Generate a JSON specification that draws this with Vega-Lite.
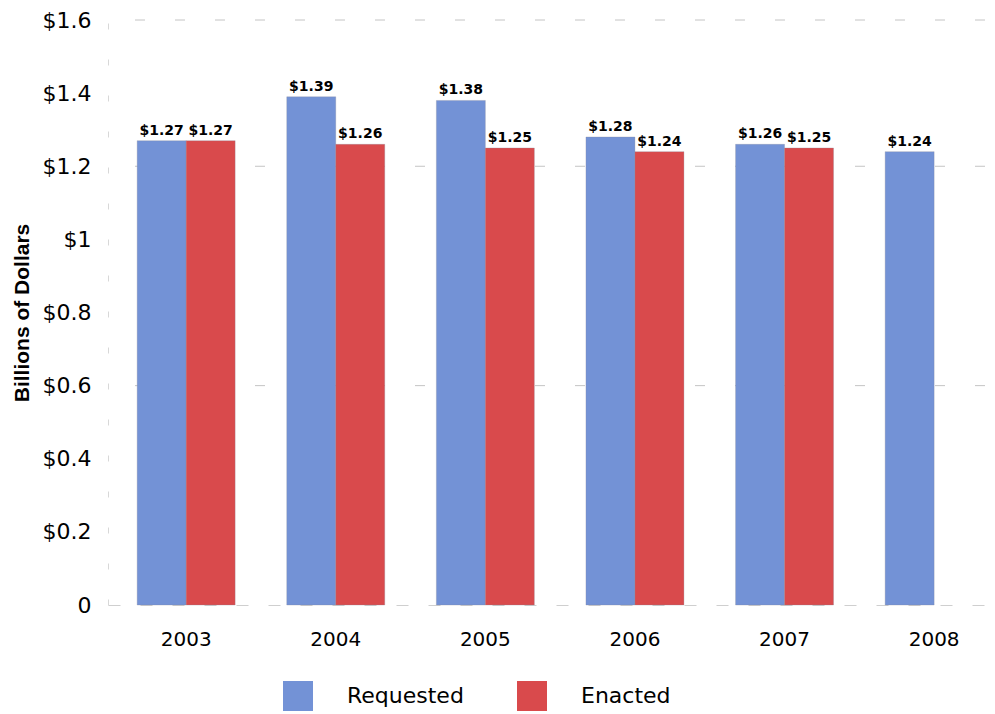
{
  "$schema": "https://vega.github.io/schema/vega-lite/v6.json",
  "width": 877,
  "height": 585,
  "autosize": {"type": "none"},
  "padding": {"left": 108, "top": 20, "right": 10, "bottom": 109},
  "background": "white",
  "config": {
    "view": {"stroke": null},
    "font": "DejaVu Sans"
  },
  "datasets": {
    "budget": [
      {"year": "2003", "type": "Requested", "value": 1.27},
      {"year": "2003", "type": "Enacted", "value": 1.27},
      {"year": "2004", "type": "Requested", "value": 1.39},
      {"year": "2004", "type": "Enacted", "value": 1.26},
      {"year": "2005", "type": "Requested", "value": 1.38},
      {"year": "2005", "type": "Enacted", "value": 1.25},
      {"year": "2006", "type": "Requested", "value": 1.28},
      {"year": "2006", "type": "Enacted", "value": 1.24},
      {"year": "2007", "type": "Requested", "value": 1.26},
      {"year": "2007", "type": "Enacted", "value": 1.25},
      {"year": "2008", "type": "Requested", "value": 1.24}
    ],
    "grid": [
      {"value": 0.6},
      {"value": 1.2},
      {"value": 1.6}
    ]
  },
  "layer": [
    {
      "data": {"name": "grid"},
      "mark": {"type": "rule", "color": "#c4c4c4", "strokeWidth": 1, "strokeDash": [10, 30]},
      "encoding": {
        "y": {
          "field": "value",
          "type": "quantitative",
          "scale": {"domain": [0, 1.6], "nice": false},
          "axis": {
            "title": "Billions of Dollars",
            "titleFont": "Liberation Sans",
            "titleFontSize": 21,
            "titleFontWeight": "bold",
            "titleColor": "#000",
            "titlePadding": 10,
            "values": [0, 0.2, 0.4, 0.6, 0.8, 1, 1.2, 1.4, 1.6],
            "labelExpr": "datum.value == 0 ? '0' : '$' + format(datum.value, '~g')",
            "labelFontSize": 22,
            "labelColor": "#000",
            "labelPadding": 17,
            "ticks": false,
            "grid": false,
            "domainColor": "#d8d8d8",
            "domainDash": [6, 30]
          }
        }
      }
    },
    {
      "data": {"name": "budget"},
      "encoding": {
        "x": {
          "field": "year",
          "type": "nominal",
          "scale": {"paddingInner": 0.345, "paddingOuter": 0.1037, "align": 0.94},
          "axis": {
            "title": null,
            "labelAngle": 0,
            "labelFontSize": 20,
            "labelColor": "#000",
            "labelPadding": 24,
            "ticks": false,
            "domain": true,
            "domainColor": "#cfcfcf",
            "domainDash": [12, 20]
          }
        },
        "xOffset": {
          "field": "type",
          "type": "nominal",
          "sort": ["Requested", "Enacted"],
          "scale": {"paddingInner": 0, "paddingOuter": 0}
        },
        "y": {
          "field": "value",
          "type": "quantitative"
        }
      },
      "layer": [
        {
          "mark": {"type": "bar", "stroke": "#8a8a9a", "strokeWidth": 0.6, "strokeOpacity": 0.5},
          "encoding": {
            "color": {
              "field": "type",
              "type": "nominal",
              "sort": ["Requested", "Enacted"],
              "scale": {"domain": ["Requested", "Enacted"], "range": ["#7392d6", "#d94a4c"]},
              "legend": {
                "title": null,
                "orient": "none",
                "legendX": 175,
                "legendY": 661,
                "padding": 0,
                "direction": "horizontal",
                "symbolType": "square",
                "symbolSize": 900,
                "symbolStrokeWidth": 0,
                "labelFontSize": 22,
                "labelColor": "#000",
                "labelOffset": 34,
                "columnPadding": 53
              }
            }
          }
        },
        {
          "mark": {"type": "text", "baseline": "bottom", "dy": -3, "fontSize": 14, "fontWeight": "bold", "color": "#000"},
          "encoding": {
            "text": {"field": "value", "type": "quantitative", "format": "$.2f"}
          }
        }
      ]
    }
  ]
}
